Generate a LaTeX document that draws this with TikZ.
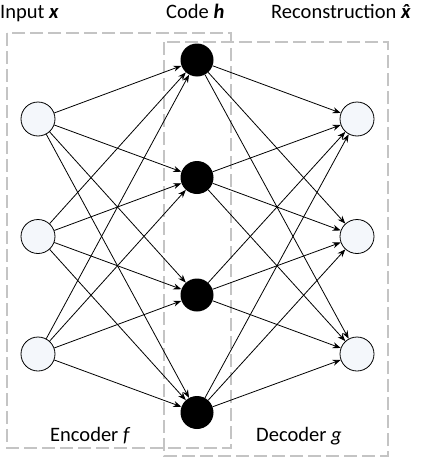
\documentclass[tikz,border=0pt]{standalone}
\usepackage{amsmath}
\usepackage{fontspec}
\setmainfont{Carlito}
\usetikzlibrary{arrows.meta, positioning}
\definecolor{unitfill}{RGB}{244,247,251}
\definecolor{boxgray}{RGB}{196,196,196}

\begin{document}
\begin{tikzpicture}[x=1pt,y=1pt,node distance=117.5pt]
 \tikzstyle{visible}=[circle,draw=black,line width=0.8pt,fill=unitfill,
   minimum size=34pt,inner sep=0pt]
 \tikzstyle{hidden}=[circle,fill=black,minimum size=33pt,inner sep=0pt]
 \tikzstyle{dashbox}=[draw=boxgray,line width=1.8pt,dash pattern=on 13pt off 5pt]
 \tikzstyle{weight}=[-{Stealth[length=8pt,width=6pt]},line width=0.8pt]
 \tikzstyle{caption}=[anchor=base west,inner sep=0pt,
   font=\fontsize{20.5}{24}\selectfont]
 \useasboundingbox (0,0) rectangle (428,-458);
 % encoder and decoder frames
 \draw[dashbox] (7,-33) rectangle (231,-448);
 \draw[dashbox] (164,-42) rectangle (388,-456);
 % input layer
 \node (in1) [visible] at (38,-119) {};
 \node (in2) [visible,below of=in1] {};
 \node (in3) [visible,below of=in2] {};
 % code layer
 \node (h1) [hidden] at (197,-60) {};
 \node (h2) [hidden,below of=h1] {};
 \node (h3) [hidden,below of=h2] {};
 \node (h4) [hidden,below of=h3] {};
 % reconstruction layer
 \node (out1) [visible] at (357,-119) {};
 \node (out2) [visible,below of=out1] {};
 \node (out3) [visible,below of=out2] {};
 % weights
 \foreach \i in {1,2,3}
   \foreach \j in {1,2,3,4} {
     \draw[weight] (in\i) -- (h\j);
     \draw[weight] (h\j) -- (out\i);
   }
 % captions
 \node (inputlabel) [caption] at (0,-18.3) {Input \textbf{\textit{x}}};
 \node (codelabel) [caption] at (166,-18.3) {Code \textbf{\textit{h}}};
 \node (reclabel) [caption] at (271,-18.3)
   {Reconstruction \textbf{\textit{\accent"02C6 x}}};
 \node (enclabel) [caption] at (50,-441.7) {Encoder \textit{f}};
 \node (declabel) [caption] at (256,-441.7) {Decoder \textit{g}};
\end{tikzpicture}
\end{document}
